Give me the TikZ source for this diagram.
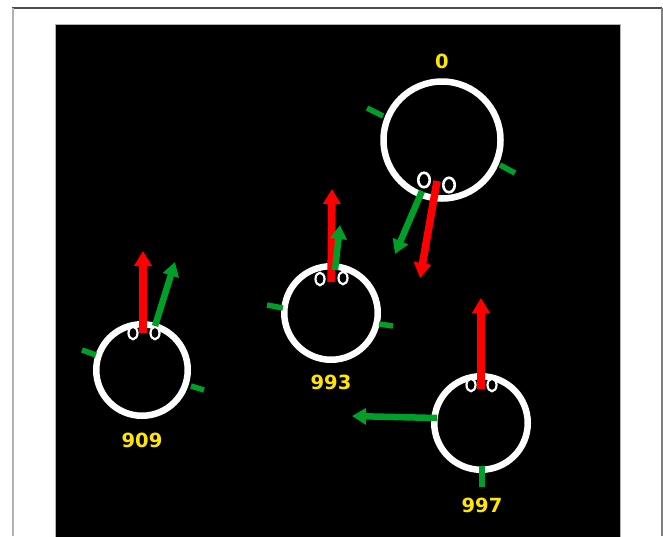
\documentclass[tikz,border=0pt]{standalone}
\usepackage{fontspec}
\setmainfont{DejaVu Sans}
\usetikzlibrary{arrows.meta,shapes.geometric}
\definecolor{rgreen}{RGB}{0,160,40}
\definecolor{rred}{RGB}{255,0,0}
\definecolor{ryellow}{RGB}{255,230,0}
\begin{document}
\begin{tikzpicture}[x=1pt,y=-1pt,
  ring/.style={circle, draw=white, line width=6.5pt, inner sep=0pt, outer sep=0pt},
  eyesmall/.style={ellipse, draw=white, fill=black, line width=2.2pt, inner sep=0pt, minimum width=9pt, minimum height=12.5pt},
  eyebig/.style={ellipse, draw=white, fill=black, line width=2.6pt, inner sep=0pt, minimum width=11.5pt, minimum height=14.5pt},
  tick/.style={draw=rgreen, line width=5.5pt},
  redarrow/.style={draw=rred, line width=7.5pt, -{Triangle[width=17pt,length=15pt]}},
  greenarrow/.style={draw=rgreen, line width=6.5pt, -{Triangle[width=16pt,length=14pt]}},
  lbl/.style={text=ryellow, font=\fontsize{19.5}{19.5}\selectfont\bfseries, inner sep=0pt}]
\useasboundingbox (0,0) rectangle (663,536);
\fill[white] (0,0) rectangle (663,536);
\draw[black!70, line width=1.5pt] (12,8) -- (662,8);
\draw[black!30, line width=2pt] (13,8) -- (13,536);
\draw[black!50, line width=1.5pt] (662,8) -- (662,536);
\fill[black, draw=black!30, line width=1pt] (55,24) rectangle (620,537);

% robot 0
\node[ring, minimum size=117pt] (r0) at (442,140) {};
\node[eyebig] (r0e1) at (424,180) {};
\node[eyebig] (r0e2) at (449,185) {};
\coordinate (r0tla) at (367,108); \coordinate (r0tlb) at (383,116);
\coordinate (r0tra) at (500,165); \coordinate (r0trb) at (515,173);
\draw[tick] (r0tla) -- (r0tlb);
\draw[tick] (r0tra) -- (r0trb);
\coordinate (r0rs) at (437,181); \coordinate (r0rt) at (420,278);
\coordinate (r0gs) at (422,191); \coordinate (r0gt) at (395,254);
\draw[redarrow] (r0rs) -- (r0rt);
\draw[greenarrow] (r0gs) -- (r0gt);
\node[lbl] (l0) at (442,61) {0};

% robot 909
\node[ring, minimum size=91.5pt] (r909) at (142,370) {};
\node[eyesmall] (r909e1) at (133,333) {};
\node[eyesmall] (r909e2) at (155,333) {};
\coordinate (r909tla) at (82,350); \coordinate (r909tlb) at (96,355);
\coordinate (r909tra) at (191,386); \coordinate (r909trb) at (204,390);
\draw[tick] (r909tla) -- (r909tlb);
\draw[tick] (r909tra) -- (r909trb);
\coordinate (r909rs) at (143,333); \coordinate (r909rt) at (143,251);
\coordinate (r909gs) at (155,326); \coordinate (r909gt) at (175,262);
\draw[redarrow] (r909rs) -- (r909rt);
\draw[greenarrow] (r909gs) -- (r909gt);
\node[lbl] (l909) at (142,440) {909};

% robot 993
\node[ring, minimum size=93.5pt] (r993) at (331,313) {};
\node[eyesmall] (r993e1) at (320,279) {};
\node[eyesmall] (r993e2) at (343,278) {};
\coordinate (r993tla) at (267,305); \coordinate (r993tlb) at (283,308);
\coordinate (r993tra) at (379,324); \coordinate (r993trb) at (393,326);
\draw[tick] (r993tla) -- (r993tlb);
\draw[tick] (r993tra) -- (r993trb);
\coordinate (r993rs) at (331,282); \coordinate (r993rt) at (332,189);
\coordinate (r993gs) at (335,270); \coordinate (r993gt) at (340,225);
\draw[redarrow] (r993rs) -- (r993rt);
\draw[greenarrow] (r993gs) -- (r993gt);
\node[lbl] (l993) at (331,382) {993};

% robot 997
\node[ring, minimum size=93.5pt] (r997) at (481,423) {};
\node[eyesmall] (r997e1) at (471,385) {};
\node[eyesmall] (r997e2) at (492,385) {};
\coordinate (r997tba) at (482,466); \coordinate (r997tbb) at (482,487);
\draw[tick] (r997tba) -- (r997tbb);
\coordinate (r997rs) at (481,389); \coordinate (r997rt) at (481,298);
\coordinate (r997gs) at (437,418); \coordinate (r997gt) at (352,416);
\draw[redarrow] (r997rs) -- (r997rt);
\draw[greenarrow] (r997gs) -- (r997gt);
\node[lbl] (l997) at (482,505) {997};
\end{tikzpicture}
\end{document}
